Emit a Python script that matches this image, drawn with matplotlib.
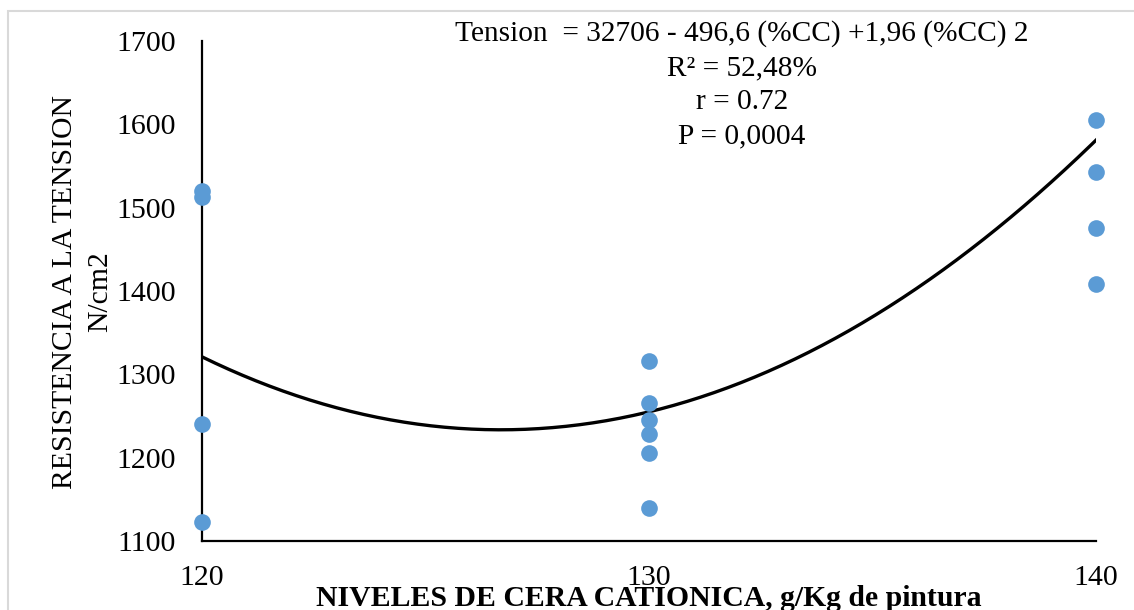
import numpy as np
import matplotlib.pyplot as plt
from matplotlib.patches import Rectangle

# Niveles de cera cationica (g/Kg) and measured tension (N/cm2)
x_120 = [1520, 1513, 1240, 1123]
x_130 = [1316, 1266, 1245, 1228, 1206, 1140]
x_140 = [1605, 1543, 1476, 1408]
levels = [120, 130, 140]
groups = [x_120, x_130, x_140]

# quadratic trend line as drawn (c2, c1, c0)
trend_coef = [1.96, -496.6, 32689]

eq_text = ("Tension  = 32706 - 496,6 (%CC) +1,96 (%CC) 2\n"
           "R\u00b2 = 52,48%\nr = 0.72\nP = 0,0004")

W, H = 1134, 610
fig = plt.figure(figsize=(W / 100, H / 100), dpi=100)
plt.rcParams['font.family'] = ['Liberation Serif', 'DejaVu Serif']

ax = fig.add_axes([202 / W, 1 - 541 / H, (1096 - 202) / W, (541 - 41) / H])

# light gray frame around chart area
fig.patches.append(Rectangle((8 / W, -0.1), 1.2, 1 - 11 / H + 0.1, transform=fig.transFigure,
                             fill=False, edgecolor='#d9d9d9', linewidth=1.5))

xs = np.linspace(120, 140, 200)
ax.plot(xs, np.polyval(trend_coef, xs), color='black', linewidth=2.4, zorder=3)

for lev, vals in zip(levels, groups):
    ax.plot([lev] * len(vals), vals, 'o', color='#5b9bd5', markersize=12,
            markeredgewidth=0, zorder=4, clip_on=False)

ax.set_xlim(120, 140)
ax.set_ylim(1100, 1700)
ax.set_xticks([120, 130, 140])
ax.set_yticks(range(1100, 1701, 100))
for s in ['top', 'right']:
    ax.spines[s].set_visible(False)
for s in ['left', 'bottom']:
    ax.spines[s].set_linewidth(1.6)
    ax.spines[s].set_zorder(2)
ax.tick_params(axis='x', length=0, pad=17, labelsize=21.5)
ax.tick_params(axis='y', length=0, pad=19, labelsize=21.5)

ax.set_xlabel('NIVELES DE CERA CATIONICA, g/Kg de pintura', fontsize=21.4,
              fontweight='bold')
ax.xaxis.set_label_coords(0.5, -0.087)

fig.text(83 / W, 1 - 292 / H, 'RESISTENCIA A LA TENSION\nN/cm2', rotation=90,
         ha='center', va='center', fontsize=21.4, linespacing=1.45)

fig.text(742 / W, 1 - 20 / H, eq_text, ha='center', va='top', fontsize=21.2,
         multialignment='center', linespacing=1.4)

fig.savefig('out.png', dpi=100)
